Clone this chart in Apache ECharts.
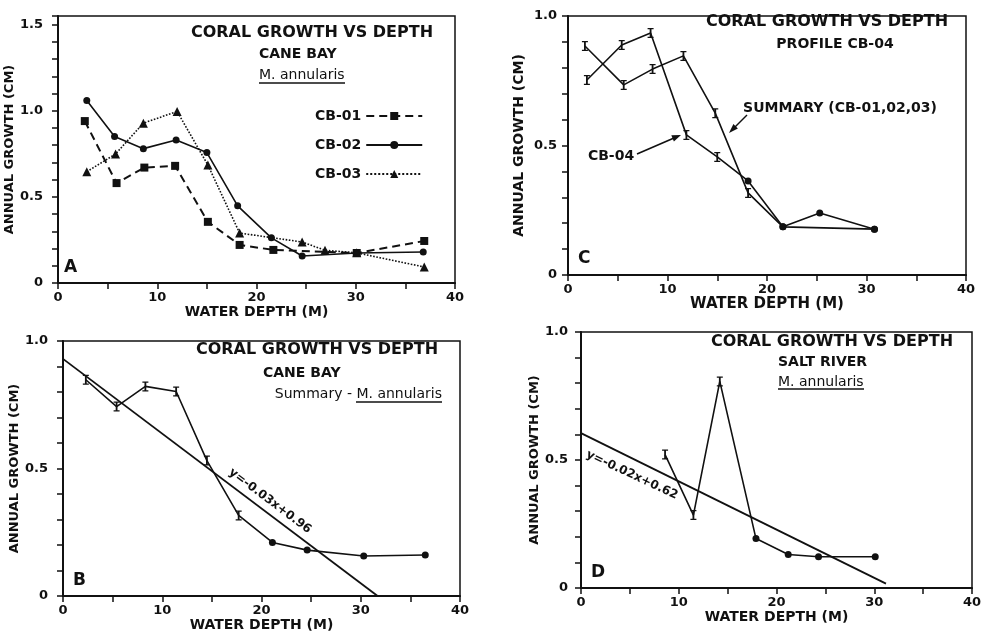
<!DOCTYPE html>
<html>
<head>
<meta charset="utf-8">
<title>Coral growth vs depth</title>
<script src="https://cdn.jsdelivr.net/npm/echarts@6/dist/echarts.min.js"></script>
<style>
  html, body { margin: 0; padding: 0; background: #fff; }
  #main { width: 988px; height: 634px; }
</style>
</head>
<body>
<div id="main"></div>
<script>
// A - Cane Bay, three profiles
let cb01 = [[2.7, 0.94], [5.9, 0.58], [8.7, 0.67], [11.8, 0.68], [15.1, 0.355], [18.3, 0.221], [21.7, 0.192], [30.1, 0.174], [36.9, 0.244]]
let cb02 = [[2.9, 1.06], [5.7, 0.85], [8.6, 0.78], [11.9, 0.83], [15.0, 0.757], [18.1, 0.448], [21.5, 0.262], [24.6, 0.157], [30.1, 0.174], [36.8, 0.18]]
let cb03 = [[2.9, 0.646], [5.8, 0.749], [8.6, 0.928], [12.0, 0.996], [15.1, 0.685], [18.3, 0.29], [24.6, 0.238], [26.9, 0.19], [30.1, 0.175], [36.9, 0.093]]

// C - profile CB-04 against the summary
let summaryC = [[1.7, 0.884], [5.6, 0.734], [8.5, 0.795], [11.6, 0.846], [14.8, 0.625], [18.1, 0.317], [21.6, 0.186], [30.8, 0.177]]
let cb04 = [[1.9, 0.753], [5.4, 0.888], [8.3, 0.934], [11.9, 0.541], [15.0, 0.456], [18.1, 0.363], [21.6, 0.186], [25.3, 0.239], [30.8, 0.177]]
let summaryCBars = 6
let cb04Bars = 5

// B - Cane Bay summary with fitted line
let summaryB = [[2.3, 0.848], [5.4, 0.743], [8.3, 0.822], [11.4, 0.802], [14.5, 0.531], [17.7, 0.316], [21.1, 0.21], [24.6, 0.18], [30.3, 0.157], [36.5, 0.161]]
let summaryBBars = 6
let fitB = [[0, 0.93], [31.7, 0]]

// D - Salt River with fitted line
let saltRiver = [[8.6, 0.521], [11.5, 0.285], [14.2, 0.807], [17.9, 0.193], [21.2, 0.131], [24.3, 0.122], [30.1, 0.122]]
let saltRiverBars = 3
let fitD = [[0, 0.605], [31.2, 0.017]]

let depthTicks = [0, 10, 20, 30, 40]
let growthTicks = [0, 0.5, 1.0, 1.5]

let ink = '#111'
let font = 'DejaVu Sans'
let ibeam = 'path://M0,0L10,0L10,2L6.5,2L6.5,14L10,14L10,16L0,16L0,14L3.5,14L3.5,2L0,2Z'

function xAxis(grid, gap, size) {
  return {
    gridIndex: grid,
    type: 'value',
    min: 0,
    max: 40,
    interval: 5,
    name: 'WATER DEPTH (M)',
    nameLocation: 'middle',
    nameGap: gap,
    nameTextStyle: { fontFamily: font, fontWeight: 'bold', fontSize: size, color: ink },
    axisLine: { lineStyle: { color: ink, width: 2 } },
    axisTick: { length: 6, lineStyle: { color: ink, width: 1.5 } },
    axisLabel: {
      margin: 8,
      fontFamily: font,
      fontWeight: 'bold',
      fontSize: 13,
      color: ink,
      formatter: v => (depthTicks.includes(v) ? String(v) : ''),
    },
    splitLine: { show: false },
  }
}

function yAxis(grid, max, gap, margin, size) {
  return {
    gridIndex: grid,
    type: 'value',
    min: 0,
    max: max,
    interval: 0.1,
    name: 'ANNUAL GROWTH (CM)',
    nameLocation: 'middle',
    nameRotate: 90,
    nameGap: gap,
    nameTextStyle: { fontFamily: font, fontWeight: 'bold', fontSize: size, color: ink },
    axisLine: { lineStyle: { color: ink, width: 2 } },
    axisTick: { length: 6, lineStyle: { color: ink, width: 1.5 } },
    axisLabel: {
      margin: margin,
      fontFamily: font,
      fontWeight: 'bold',
      fontSize: 13,
      color: ink,
      formatter: v => {
        let t = growthTicks.find(g => Math.abs(g - v) < 1e-6)
        if (t === undefined) return ''
        return t === 0 ? '0' : t.toFixed(1)
      },
    },
    splitLine: { show: false },
  }
}

// first n points carry the error-bar marker, the rest are dots
function withBars(points, n) {
  return points.map((p, i) => ({
    value: p,
    symbol: i < n ? ibeam : 'circle',
    symbolSize: i < n ? [6, 10] : 7,
  }))
}

function line(name, x, data, extra) {
  return Object.assign(
    {
      name: name,
      type: 'line',
      xAxisIndex: x,
      yAxisIndex: x,
      data: data,
      symbolKeepAspect: false,
      showAllSymbol: true,
      lineStyle: { color: ink, width: 1.6 },
      itemStyle: { color: ink },
      emphasis: { disabled: true },
      silent: true,
      z: 3,
    },
    extra || {}
  )
}

function label(x, y, text, size, weight, align, rotate) {
  return {
    type: 'text',
    x: x,
    y: y,
    rotation: ((rotate || 0) * Math.PI) / 180,
    silent: true,
    style: {
      text: text,
      fontFamily: font,
      fontSize: size,
      fontWeight: weight || 'bold',
      fill: ink,
      align: align || 'left',
      verticalAlign: 'middle',
    },
  }
}

function rule(x1, y1, x2, y2) {
  return {
    type: 'line',
    silent: true,
    shape: { x1: x1, y1: y1, x2: x2, y2: y2 },
    style: { stroke: ink, lineWidth: 1.5 },
  }
}

function head(points) {
  return { type: 'polygon', silent: true, shape: { points: points }, style: { fill: ink } }
}

let gridStyle = { show: true, borderColor: ink, borderWidth: 1.5, backgroundColor: 'transparent' }

let myChart = echarts.init(document.getElementById('main'))

let options = {
  backgroundColor: '#fff',
  animation: false,
  grid: [
    Object.assign({ left: 58, right: 533, top: 16, bottom: 351 }, gridStyle),
    Object.assign({ left: 568, right: 22, top: 16, bottom: 359 }, gridStyle),
    Object.assign({ left: 63, right: 528, top: 341, bottom: 38 }, gridStyle),
    Object.assign({ left: 581, right: 16, top: 332, bottom: 46 }, gridStyle),
  ],
  xAxis: [xAxis(0, 21, 14), xAxis(1, 22, 15), xAxis(2, 21, 14), xAxis(3, 21, 14)],
  yAxis: [
    yAxis(0, 1.55, 39, 15, 13),
    yAxis(1, 1.0, 42, 11, 14),
    yAxis(2, 1.0, 39, 15, 13),
    yAxis(3, 1.0, 38, 13, 13),
  ],
  legend: {
    orient: 'vertical',
    left: 310,
    top: 104,
    align: 'right',
    itemWidth: 56,
    itemHeight: 10,
    itemGap: 15,
    selectedMode: false,
    data: ['CB-01', 'CB-02', 'CB-03'],
    textStyle: { fontFamily: font, fontWeight: 'bold', fontSize: 14, color: ink },
  },
  series: [
    line('CB-01', 0, cb01, {
      symbol: 'rect',
      symbolSize: 8,
      lineStyle: { color: ink, width: 2, type: [8, 5] },
    }),
    line('CB-02', 0, cb02, { symbol: 'circle', symbolSize: 7 }),
    line('CB-03', 0, cb03, {
      symbol: 'triangle',
      symbolSize: 9,
      lineStyle: { color: ink, width: 1.6, type: 'dotted' },
    }),
    line('Summary C', 1, withBars(summaryC, summaryCBars)),
    line('CB-04 C', 1, withBars(cb04, cb04Bars)),
    line('Summary B', 2, withBars(summaryB, summaryBBars)),
    line('Fit B', 2, fitB, { symbol: 'none', lineStyle: { color: ink, width: 1.8 }, z: 2 }),
    line('Salt River', 3, withBars(saltRiver, saltRiverBars)),
    line('Fit D', 3, fitD, { symbol: 'none', lineStyle: { color: ink, width: 1.8 }, z: 2 }),
  ],
  graphic: [
    // A
    label(312, 33, 'CORAL GROWTH VS DEPTH', 16, 'bold', 'center'),
    label(259, 54, 'CANE BAY', 14),
    label(259, 75, 'M. annularis', 14, 'normal'),
    rule(259, 83, 345, 83),
    label(64, 268, 'A', 17),
    // C
    label(827, 22, 'CORAL GROWTH VS DEPTH', 16, 'bold', 'center'),
    label(835, 44, 'PROFILE CB-04', 14, 'bold', 'center'),
    label(840, 108, 'SUMMARY (CB-01,02,03)', 14, 'bold', 'center'),
    label(611, 156, 'CB-04', 14, 'bold', 'center'),
    rule(637, 154, 674, 138),
    head([[681, 135], [673.9, 141.5], [671.3, 135.2]]),
    rule(747, 115, 734, 128),
    head([[729, 133], [737.9, 128.6], [733.4, 124.1]]),
    label(578, 259, 'C', 17),
    // B
    label(317, 350, 'CORAL GROWTH VS DEPTH', 16, 'bold', 'center'),
    label(263, 373, 'CANE BAY', 14),
    label(442, 394, 'Summary - M. annularis', 14, 'normal', 'right'),
    rule(356, 402, 442, 402),
    label(73, 581, 'B', 17),
    label(270, 501, 'y=-0.03x+0.96', 12, 'bold', 'center', -37),
    // D
    label(832, 342, 'CORAL GROWTH VS DEPTH', 16, 'bold', 'center'),
    label(778, 362, 'SALT RIVER', 14),
    label(778, 382, 'M. annularis', 14, 'normal'),
    rule(778, 389, 864, 389),
    label(591, 573, 'D', 17),
    label(632, 475, 'y=-0.02x+0.62', 12, 'bold', 'center', -25),
  ],
}

myChart.setOption(options)
</script>
</body>
</html>
